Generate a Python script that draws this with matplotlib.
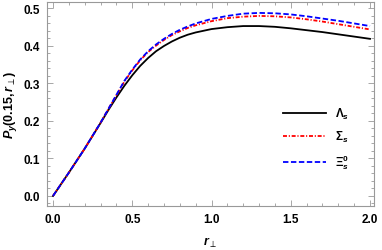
import matplotlib
matplotlib.use('Agg')
import matplotlib.pyplot as plt
from matplotlib.ticker import MultipleLocator

# r_perp grid and polarisation curves
r_perp = [0.0, 0.1, 0.2, 0.3, 0.35, 0.4, 0.45, 0.5, 0.55, 0.6, 0.65, 0.7, 0.75, 0.8,
          0.85, 0.9, 1.0, 1.1, 1.2, 1.3, 1.4, 1.5, 1.6, 1.7, 1.8, 1.9, 2.0]
p_lambda = [0.0, 0.062, 0.126, 0.194, 0.229, 0.262, 0.293, 0.321, 0.346, 0.367, 0.385,
            0.399, 0.411, 0.421, 0.429, 0.435, 0.444, 0.449, 0.452, 0.452, 0.450,
            0.446, 0.441, 0.436, 0.430, 0.424, 0.418]
p_sigma = [0.0, 0.062, 0.126, 0.195, 0.232, 0.268, 0.304, 0.334, 0.361, 0.383, 0.400,
           0.415, 0.428, 0.438, 0.447, 0.454, 0.465, 0.473, 0.477, 0.479, 0.478,
           0.475, 0.470, 0.464, 0.457, 0.450, 0.443]
p_xi = [0.0, 0.062, 0.126, 0.195, 0.232, 0.269, 0.306, 0.336, 0.363, 0.385, 0.403,
        0.418, 0.431, 0.442, 0.451, 0.459, 0.471, 0.479, 0.485, 0.487, 0.486,
        0.483, 0.478, 0.472, 0.466, 0.459, 0.452]

labels = [r'$\Lambda_s$', r'$\Sigma_s$', r'$\Xi_s^0$']

plt.rcParams['font.family'] = ['Liberation Sans', 'DejaVu Sans']
plt.rcParams['mathtext.fontset'] = 'custom'
plt.rcParams['mathtext.rm'] = 'Liberation Sans:bold'
plt.rcParams['mathtext.it'] = 'Liberation Sans:italic:bold'
plt.rcParams['mathtext.bf'] = 'Liberation Sans:bold'
plt.rcParams['mathtext.sf'] = 'DejaVu Sans:bold'

fig = plt.figure(figsize=(3.82, 2.51), dpi=100)
ax = fig.add_axes([0.123, 0.175, 0.856, 0.813])

ax.plot(r_perp, p_lambda, color='black', lw=1.3, ls='-', label=labels[0])
ax.plot(r_perp, p_sigma, color='red', lw=1.3, ls=(0, (2.2, 1, 0.6, 1)), label=labels[1])
ax.plot(r_perp, p_xi, color='blue', lw=1.3, ls=(0, (3, 1.4)), label=labels[2])

ax.set_xlim(-0.038, 2.025)
ax.set_ylim(-0.027, 0.516)
ax.xaxis.set_major_locator(MultipleLocator(0.5))
ax.xaxis.set_minor_locator(MultipleLocator(0.1))
ax.yaxis.set_major_locator(MultipleLocator(0.1))
ax.yaxis.set_minor_locator(MultipleLocator(0.02))

frame_col = '#999999'
for s in ax.spines.values():
    s.set_color(frame_col)
    s.set_linewidth(0.8)
ax.tick_params(which='both', direction='in', top=True, right=True,
               color=frame_col, width=0.6, labelsize=8.5, pad=5)
ax.tick_params(which='major', length=4)
ax.tick_params(which='minor', length=2)
ax.set_xticklabels([f'{v:.1f}' for v in ax.get_xticks()], fontweight='bold')
ax.set_yticklabels([f'{v:.1f}' for v in ax.get_yticks()], fontweight='bold')

ax.set_xlabel(r'$r_{\mathsf{\perp}}$', fontsize=9, labelpad=7)
ax.set_ylabel(r'$P_y(0.15,r_{\mathsf{\perp}})$', fontsize=9, labelpad=3)

ax.legend(loc='center left', bbox_to_anchor=(0.69, 0.33), frameon=False,
          prop={'size': 8.5, 'weight': 'bold'}, handlelength=3.6,
          labelspacing=0.7, handletextpad=0.8)

fig.savefig('out.png', dpi=100)
plt.close(fig)
